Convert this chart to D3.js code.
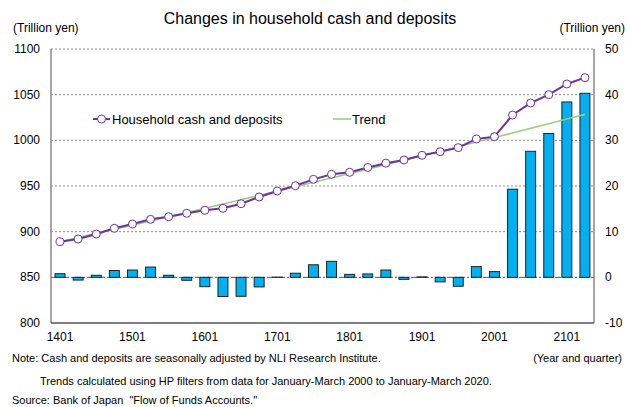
<!DOCTYPE html>
<html>
<head>
    <meta charset="utf-8">
    <style>
        body {
            margin: 0;
            background: white;
            font-family: 'Liberation Sans', Arial, sans-serif;
        }

        svg {
            display: block;
        }

        text {
            white-space: pre;
        }
    </style>
</head>
<body>
    <svg width="627" height="407"></svg>

<script src="https://d3js.org/d3.v7.min.js"></script>
<script>
    // year+quarter codes, 2014Q1 .. 2021Q2
    let quarters = ["1401", "1402", "1403", "1404", "1501", "1502", "1503", "1504",
        "1601", "1602", "1603", "1604", "1701", "1702", "1703", "1704",
        "1801", "1802", "1803", "1804", "1901", "1902", "1903", "1904",
        "2001", "2002", "2003", "2004", "2101", "2102"]

    // household cash and deposits (left axis, trillion yen)
    let cash = [889, 892, 897.4, 903.7, 908.4, 913.5, 916.4, 920.1,
        923.4, 925.6, 930.6, 938, 944.5, 950.3, 957.3, 962.8,
        965, 970.3, 975, 978.5, 983.6, 987.6, 992, 1001.5,
        1004, 1027.7, 1040.9, 1050, 1061.7, 1068.6]

    // HP filter trend (left axis)
    let trend = [889.0, 893.5, 898.0, 902.6, 907.1, 911.7, 916.3, 921.0,
        925.6, 930.3, 935.0, 939.7, 944.5, 949.2, 954.0, 958.8,
        963.7, 968.5, 973.4, 978.3, 983.2, 988.1, 993.1, 998.1,
        1003.1, 1008.1, 1013.2, 1018.2, 1023.3, 1028.4]

    // deviation from trend (right axis, bars)
    let gap = [0.8, -0.6, 0.45, 1.5, 1.6, 2.25, 0.45, -0.65,
        -2.05, -4.2, -4.15, -2.1, 0.05, 0.9, 2.75, 3.5,
        0.65, 0.75, 1.6, -0.45, 0.1, -1.0, -1.95, 2.35,
        1.25, 19.3, 27.6, 31.5, 38.4, 40.3]

    let leftTicks = [800, 850, 900, 950, 1000, 1050, 1100]
    let rightTicks = [-10, 0, 10, 20, 30, 40, 50]

    let svg = d3.select("svg")

    let pLeft = 51, pRight = 594, pTop = 49, pBottom = 323

    let x = d3.scaleBand()
        .domain(quarters)
        .range([pLeft, pRight])
        .paddingInner(0.45)
        .paddingOuter(0.225)

    let xc = d => x(d) + x.bandwidth() / 2

    let yL = d3.scaleLinear().domain([800, 1100]).range([pBottom, pTop])
    let yR = d3.scaleLinear().domain([-10, 50]).range([pBottom, pTop])

    // gridlines
    svg.selectAll(".grid")
        .data(leftTicks.filter(d => d != 800 && d != 850))
        .join("line")
        .attr("x1", pLeft).attr("x2", pRight)
        .attr("y1", d => yL(d)).attr("y2", d => yL(d))
        .style("stroke", "#8c8c8c")
        .style("stroke-width", 1)
        .style("stroke-dasharray", "2,2")

    // zero line of the bars
    svg.append("line")
        .attr("x1", pLeft).attr("x2", pRight)
        .attr("y1", yR(0)).attr("y2", yR(0))
        .style("stroke", "#555")
        .style("stroke-width", 1)
        .style("stroke-dasharray", "6,2,2,2")

    // bars
    svg.selectAll(".bar")
        .data(quarters)
        .join("rect")
        .attr("x", d => x(d))
        .attr("width", x.bandwidth())
        .attr("y", (d, i) => yR(Math.max(0, gap[i])))
        .attr("height", (d, i) => Math.abs(yR(gap[i]) - yR(0)))
        .style("fill", "#00b0f0")
        .style("stroke", "#222")
        .style("stroke-width", 1)

    // axes frame
    svg.append("line")
        .attr("x1", pLeft).attr("x2", pLeft).attr("y1", pTop).attr("y2", pBottom)
        .style("stroke", "#888").style("stroke-width", 1.5)
    svg.append("line")
        .attr("x1", pRight).attr("x2", pRight).attr("y1", pTop).attr("y2", pBottom)
        .style("stroke", "#888").style("stroke-width", 1.5)
    svg.append("line")
        .attr("x1", pLeft).attr("x2", pRight).attr("y1", pBottom).attr("y2", pBottom)
        .style("stroke", "#555").style("stroke-width", 1.5)

    // trend
    let lineL = d3.line().x((d, i) => xc(quarters[i])).y(d => yL(d))

    svg.append("path")
        .attr("d", lineL(trend))
        .style("fill", "none")
        .style("stroke", "#9bcf7c")
        .style("stroke-width", 1.6)

    // cash and deposits
    svg.append("path")
        .attr("d", lineL(cash))
        .style("fill", "none")
        .style("stroke", "#7030a0")
        .style("stroke-width", 2)

    svg.selectAll(".pt")
        .data(cash)
        .join("circle")
        .attr("cx", (d, i) => xc(quarters[i]))
        .attr("cy", d => yL(d))
        .attr("r", 4)
        .style("fill", "white")
        .style("stroke", "#7030a0")
        .style("stroke-width", 1)

    // tick labels
    svg.selectAll(".ltick")
        .data(leftTicks)
        .join("text")
        .attr("x", 40)
        .attr("y", d => yL(d) + 4)
        .attr("text-anchor", "end")
        .style("font-size", "12px")
        .text(d => d)

    svg.selectAll(".rtick")
        .data(rightTicks)
        .join("text")
        .attr("x", 605)
        .attr("y", d => yR(d) + 4)
        .style("font-size", "12px")
        .text(d => d)

    svg.selectAll(".xtick")
        .data(quarters.filter(d => d.slice(2) == "01"))
        .join("text")
        .attr("x", d => xc(d))
        .attr("y", 341)
        .attr("text-anchor", "middle")
        .style("font-size", "12px")
        .text(d => d)

    // titles
    svg.append("text")
        .attr("x", 310).attr("y", 24)
        .attr("text-anchor", "middle")
        .style("font-size", "16px")
        .text("Changes in household cash and deposits")

    svg.append("text")
        .attr("x", 13).attr("y", 32)
        .style("font-size", "12px")
        .text("(Trillion yen)")

    svg.append("text")
        .attr("x", 625).attr("y", 32)
        .attr("text-anchor", "end")
        .style("font-size", "12px")
        .text("(Trillion yen)")

    // legend
    svg.append("line")
        .attr("x1", 93).attr("x2", 110).attr("y1", 119).attr("y2", 119)
        .style("stroke", "#7030a0").style("stroke-width", 2)
    svg.append("circle")
        .attr("cx", 101.5).attr("cy", 119).attr("r", 4)
        .style("fill", "white").style("stroke", "#7030a0")
    svg.append("text")
        .attr("x", 112).attr("y", 124)
        .style("font-size", "13px")
        .text("Household cash and deposits")

    svg.append("line")
        .attr("x1", 333).attr("x2", 351).attr("y1", 119).attr("y2", 119)
        .style("stroke", "#9bcf7c").style("stroke-width", 1.6)
    svg.append("text")
        .attr("x", 352).attr("y", 124)
        .style("font-size", "13px")
        .text("Trend")

    // notes
    svg.append("text")
        .attr("x", 12).attr("y", 362)
        .style("font-size", "11px")
        .text("Note: Cash and deposits are seasonally adjusted by NLI Research Institute.")
    svg.append("text")
        .attr("x", 622).attr("y", 362)
        .attr("text-anchor", "end")
        .style("font-size", "11px")
        .text("(Year and quarter)")
    svg.append("text")
        .attr("x", 40).attr("y", 385)
        .style("font-size", "11px")
        .text("Trends calculated using HP filters from data for January-March 2000 to January-March 2020.")
    svg.append("text")
        .attr("x", 12).attr("y", 404)
        .style("font-size", "11px")
        .text("Source: Bank of Japan  \"Flow of Funds Accounts.\"")
</script>
</body>
</html>
